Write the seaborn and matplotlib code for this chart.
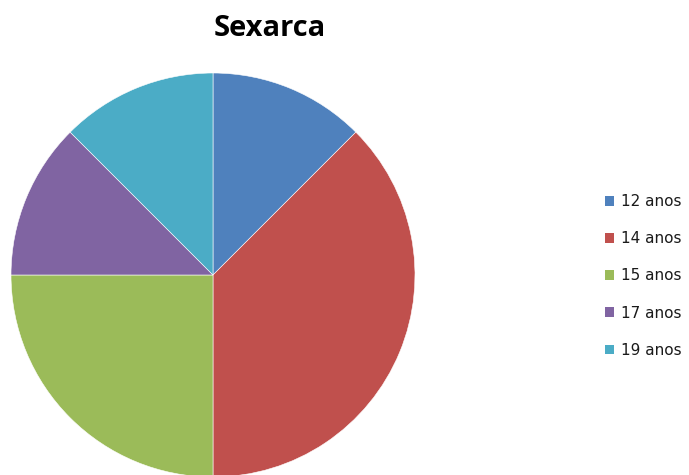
import matplotlib
matplotlib.use("Agg")
import matplotlib.pyplot as plt
import matplotlib.patches as mpatches
import seaborn as sns
import pandas as pd

# Age at first sexual intercourse (count of respondents)
categories = ["12 anos", "14 anos", "15 anos", "17 anos", "19 anos"]
counts = [1, 3, 2, 1, 1]
colors = ["#4F81BD", "#C0504D", "#9BBB59", "#8064A2", "#4BACC6"]
title = "Sexarca"

df = pd.DataFrame({"idade": categories, "n": counts})

sns.set_theme(style="white")
plt.rcParams["font.family"] = ["DejaVu Sans"]

W, H = 689, 475
fig = plt.figure(figsize=(W / 100, H / 100), dpi=100)
fig.patch.set_facecolor("white")

# Pie area: center at (213, 275) px from top-left, radius ~202 px
cx, cy, r = 213, 275, 202
ax = fig.add_axes([(cx - r) / W, (H - cy - r) / H, 2 * r / W, 2 * r / H])
wedges, _ = ax.pie(
    df["n"], colors=sns.color_palette(colors), startangle=90, counterclock=False,
    radius=1.0, wedgeprops=dict(edgecolor="white", linewidth=0.4),
)
ax.set_xlim(-1, 1)
ax.set_ylim(-1, 1)
ax.set_aspect("equal")
ax.axis("off")

fig.text(270 / W, 1 - 28 / H, title, ha="center", va="center", color="black",
         fontsize=21, fontweight="bold", family=["Open Sans", "DejaVu Sans"])

handles = [mpatches.Patch(facecolor=c, edgecolor="none") for c in colors]
leg = fig.legend(handles, df["idade"], loc="center left",
                 bbox_to_anchor=(605 / W, 1 - 276 / H), frameon=False,
                 fontsize=11, labelspacing=1.45, handlelength=0.6, handleheight=0.6,
                 handletextpad=0.45, borderpad=0, borderaxespad=0)
for t in leg.get_texts():
    t.set_color("#1a1a1a")

fig.savefig("out.png", dpi=100, facecolor="white")
